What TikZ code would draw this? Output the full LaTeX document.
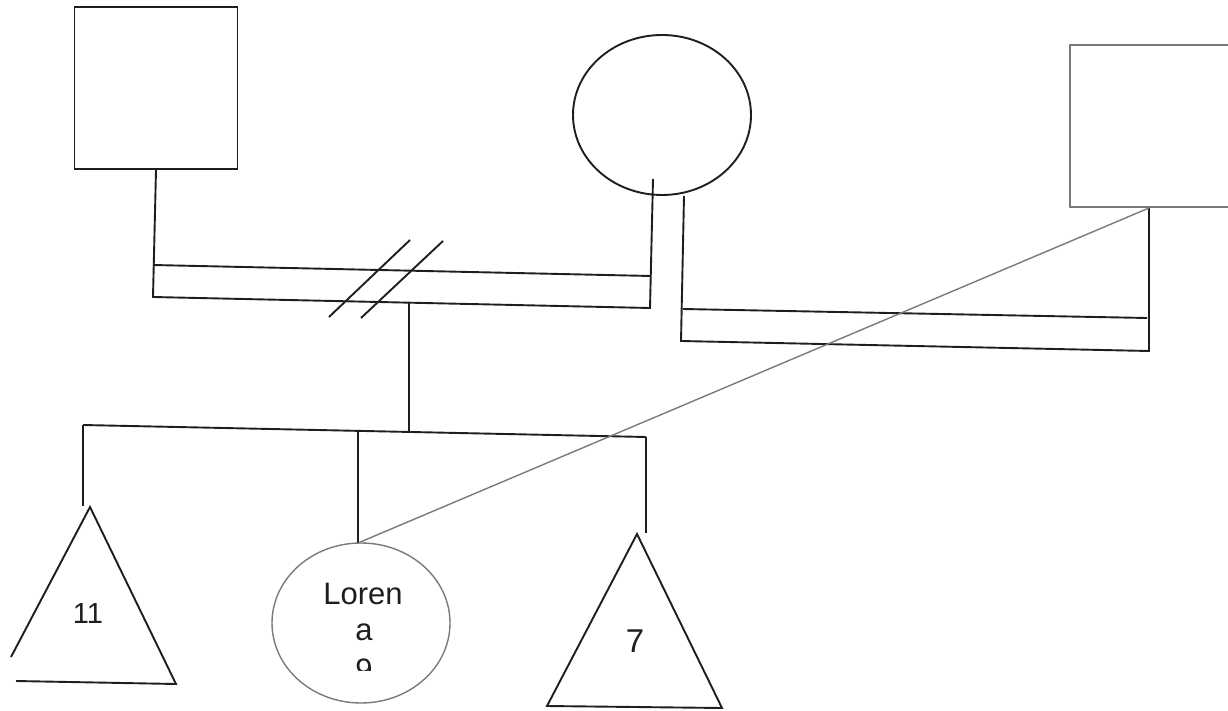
\documentclass[tikz,border=0pt]{standalone}
\usepackage{fontspec}
\setmainfont{Liberation Sans}
\usetikzlibrary{shapes.geometric}
\definecolor{ink}{HTML}{1E1E1E}
\definecolor{pale}{HTML}{7A7A7A}
\tikzset{
  blk/.style={draw=ink, line width=1.9pt},
  gry/.style={draw=pale, line width=1.4pt},
  sqbox/.style={draw=ink, line width=1.9pt, rectangle, inner sep=0pt},
  sqgray/.style={draw=pale, line width=1.4pt, rectangle, inner sep=0pt},
  oval/.style={ellipse, inner sep=0pt, minimum width=178pt, minimum height=160pt},
  lbl/.style={text=ink, anchor=base, inner sep=0pt}
}
\begin{document}
\begin{tikzpicture}[x=1pt,y=-1pt]
\useasboundingbox (0,0) rectangle (1228,711);
\fill[white] (0,0) rectangle (1228,711);

% first generation
\node[sqbox, minimum width=163pt, minimum height=162pt] (f1) at (156,88) {};
\node[oval, draw=ink, line width=1.9pt] (m) at (662,115) {};
\node[sqgray, minimum width=172pt, minimum height=162pt] (f2) at (1156,126) {};

% coordinates of the first union bar
\coordinate (u1a) at (153,265);
\coordinate (u1b) at (651,276);
\coordinate (u1c) at (153,297);
\coordinate (u1d) at (650,308);
\coordinate (mvL) at (653,179);
\draw[blk] (f1.south) -- (u1c) -- (u1d) -- (mvL);
\draw[blk] (u1a) -- (u1b);

% divorce slashes
\coordinate (s1a) at (329,317);
\coordinate (s1b) at (410,240);
\coordinate (s2a) at (361,318);
\coordinate (s2b) at (443,241);
\draw[blk] (s1a) -- (s1b);
\draw[blk] (s2a) -- (s2b);

% second union bar
\coordinate (mvR) at (684,196);
\coordinate (u2a) at (683,309);
\coordinate (u2b) at (1147,318);
\coordinate (u2c) at (681,341);
\coordinate (u2d) at (1149,351);
\coordinate (f2b) at (1149,208);
\draw[blk] (mvR) -- (u2c) -- (u2d) -- (f2b);
\draw[blk] (u2a) -- (u2b);

% descent and sibship line
\coordinate (dtop) at (409,303);
\coordinate (dbot) at (409,432);
\coordinate (sibL) at (83,425);
\coordinate (sibR) at (646,437);
\coordinate (sibM) at (358,431);
\draw[blk] (dtop) -- (dbot);
\draw[blk] (sibL) -- (sibR);

% children
\coordinate (t1apex) at (90,507);
\coordinate (t1l) at (11,657);
\coordinate (t1r) at (176,684);
\coordinate (t1bl) at (16,681);
\draw[blk, line join=miter] (t1l) -- (t1apex) -- (t1r) -- (t1bl);
\node[lbl, font=\fontsize{29}{34}\selectfont] (n11) at (88,623) {11};
\coordinate (d1) at (83,506);
\draw[blk] (sibL) -- (d1);

\node[oval, draw=pale, line width=1.4pt] (lo) at (361,623) {};
\coordinate (lotop) at (358,543);
\draw[blk] (sibM) -- (lotop);
\node[lbl, font=\fontsize{31}{36}\selectfont] (lo1) at (363,604) {Loren};
\node[lbl, font=\fontsize{31}{36}\selectfont] (lo2) at (364,640) {a};
\begin{scope}
  \clip (320,650) rectangle (410,670);
  \node[lbl, font=\fontsize{31}{36}\selectfont] (lo3) at (364,680) {9};
\end{scope}

\coordinate (t7apex) at (637,534);
\coordinate (t7l) at (547,706);
\coordinate (t7r) at (722,708);
\draw[blk, line join=miter] (t7apex) -- (t7r) -- (t7l) -- cycle;
\node[lbl, font=\fontsize{33}{38}\selectfont] (n7) at (635,652) {7};
\coordinate (d7) at (646,533);
\draw[blk] (sibR) -- (d7);

% gray connector from the right square to Lorena
\draw[gry] (lotop) -- (f2b);
\end{tikzpicture}
\end{document}
